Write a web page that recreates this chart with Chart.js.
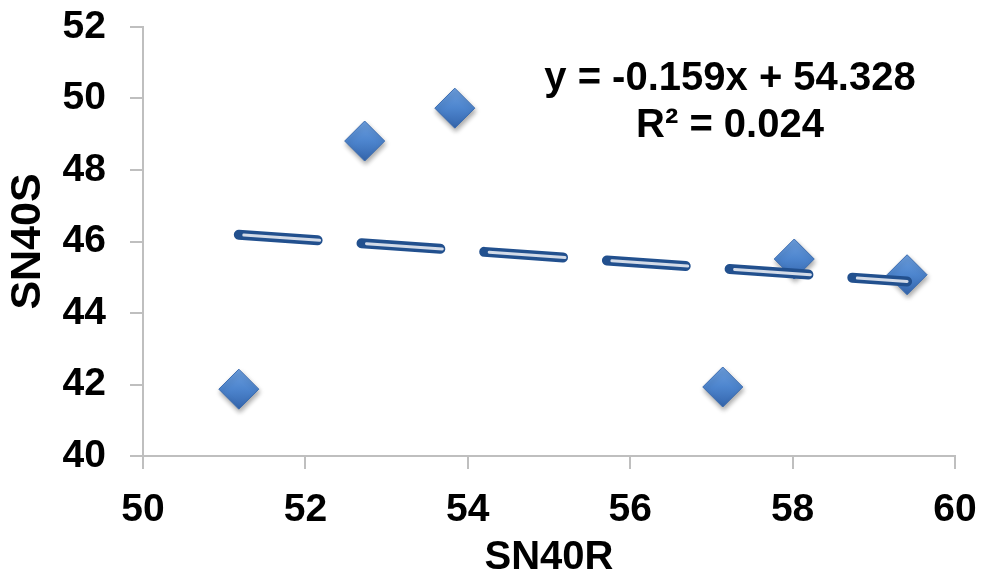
<!DOCTYPE html>
<html>
<head>
<meta charset="utf-8">
<script src="https://cdn.jsdelivr.net/npm/chart.js@4.4.0/dist/chart.umd.min.js"></script>
<style>
  html, body { margin: 0; padding: 0; background: #fff; }
  #wrap { width: 981px; height: 578px; position: relative; }
</style>
</head>
<body>
<div id="wrap"><canvas id="c"></canvas></div>
<script>
// ---- data ----
const xValues = [51.18, 52.73, 53.84, 57.14, 58.02, 59.41];
const yValues = [41.87, 48.81, 49.73, 41.93, 45.51, 45.07];
const xTicks = [50, 52, 54, 56, 58, 60];
const yTicks = [40, 42, 44, 46, 48, 50, 52];
const trendSlope = -0.159;
const trendIntercept = 54.328;
const equationLines = ['y = -0.159x + 54.328', 'R\u00B2 = 0.024'];
const xTitle = 'SN40R';
const yTitle = 'SN40S';

const points = xValues.map((x, i) => ({ x: x, y: yValues[i] }));
const xMin = Math.min(...xValues), xMax = Math.max(...xValues);
const trend = [xMin, xMax].map(x => ({ x: x, y: trendSlope * x + trendIntercept }));

const FONT = '"Liberation Sans", Arial, sans-serif';
const MARKER_R = 20;

function markerFill(ctx) {
  const chart = ctx.chart;
  const fallback = '#4C83CB';
  if (!chart.scales || !chart.scales.y || !ctx.raw) return fallback;
  const py = chart.scales.y.getPixelForValue(ctx.raw.y);
  if (!Number.isFinite(py)) return fallback;
  const g = chart.ctx.createLinearGradient(0, py - MARKER_R, 0, py + MARKER_R);
  g.addColorStop(0, '#6C9EDD');
  g.addColorStop(0.5, '#4D85CE');
  g.addColorStop(1, '#3465AC');
  return g;
}

const shadowPlugin = {
  id: 'markerShadow',
  beforeDatasetDraw(chart, args) {
    if (args.index === 2) {
      const ctx = chart.ctx;
      ctx.save();
      ctx.shadowColor = 'rgba(0,0,0,0.35)';
      ctx.shadowBlur = 5;
      ctx.shadowOffsetX = 1;
      ctx.shadowOffsetY = 3;
    }
  },
  afterDatasetDraw(chart, args) {
    if (args.index === 2) chart.ctx.restore();
  }
};

const equationPlugin = {
  id: 'equation',
  afterDraw(chart) {
    const ctx = chart.ctx;
    ctx.save();
    ctx.font = 'bold 40px ' + FONT;
    ctx.fillStyle = '#000';
    ctx.textAlign = 'center';
    ctx.textBaseline = 'alphabetic';
    ctx.fillText(equationLines[0], 730, 90);
    ctx.fillText(equationLines[1], 730, 137);
    ctx.restore();
  }
};

new Chart(document.getElementById('c'), {
  type: 'scatter',
  data: {
    datasets: [
      {
        type: 'line',
        data: trend,
        borderColor: '#D3DBE8',
        borderWidth: 3,
        borderDash: [76, 47],
        borderDashOffset: -5,
        borderCapStyle: 'round',
        pointRadius: 0,
        fill: false,
        order: 0
      },
      {
        type: 'line',
        data: trend,
        borderColor: '#22508E',
        borderWidth: 10,
        borderDash: [79, 44],
        borderCapStyle: 'round',
        pointRadius: 0,
        fill: false,
        order: 1
      },
      {
        data: points,
        pointStyle: 'rectRot',
        pointRadius: MARKER_R,
        pointHoverRadius: MARKER_R,
        backgroundColor: markerFill,
        borderColor: '#3B6CB0',
        borderWidth: 1,
        order: 2
      }
    ]
  },
  options: {
    responsive: true,
    maintainAspectRatio: false,
    animation: false,
    events: [],
    layout: { padding: { top: 27, right: 26, left: 0, bottom: 0 } },
    plugins: { legend: { display: false }, tooltip: { enabled: false } },
    scales: {
      x: {
        type: 'linear',
        min: 50, max: 60,
        afterBuildTicks(scale) { scale.ticks = xTicks.map(v => ({ value: v })); },
        afterFit(scale) { scale.height = 122; scale.paddingLeft = 0; scale.paddingRight = 0; },
        ticks: { color: '#000', font: { family: FONT, size: 39, weight: 'bold' }, padding: 18 },
        grid: { drawOnChartArea: false, drawTicks: true, tickLength: 13, color: '#BFBFBF', lineWidth: 2 },
        border: { color: '#BFBFBF', width: 2 },
        title: { display: true, text: xTitle, color: '#000', font: { family: FONT, size: 40, weight: 'bold', lineHeight: 1.0 }, padding: { top: 0, bottom: 0 } }
      },
      y: {
        type: 'linear',
        min: 40, max: 52,
        afterBuildTicks(scale) { scale.ticks = yTicks.map(v => ({ value: v })); },
        afterFit(scale) { scale.width = 143; scale.paddingTop = 0; scale.paddingBottom = 0; },
        ticks: { color: '#000', font: { family: FONT, size: 39, weight: 'bold' }, padding: 24 },
        grid: { drawOnChartArea: false, drawTicks: true, tickLength: 13, color: '#BFBFBF', lineWidth: 2 },
        border: { color: '#BFBFBF', width: 2 },
        title: { display: true, text: yTitle, color: '#000', font: { family: FONT, size: 43, weight: 'bold', lineHeight: 1.2 }, padding: { top: 2, bottom: 2 } }
      }
    }
  },
  plugins: [shadowPlugin, equationPlugin]
});
</script>
</body>
</html>
